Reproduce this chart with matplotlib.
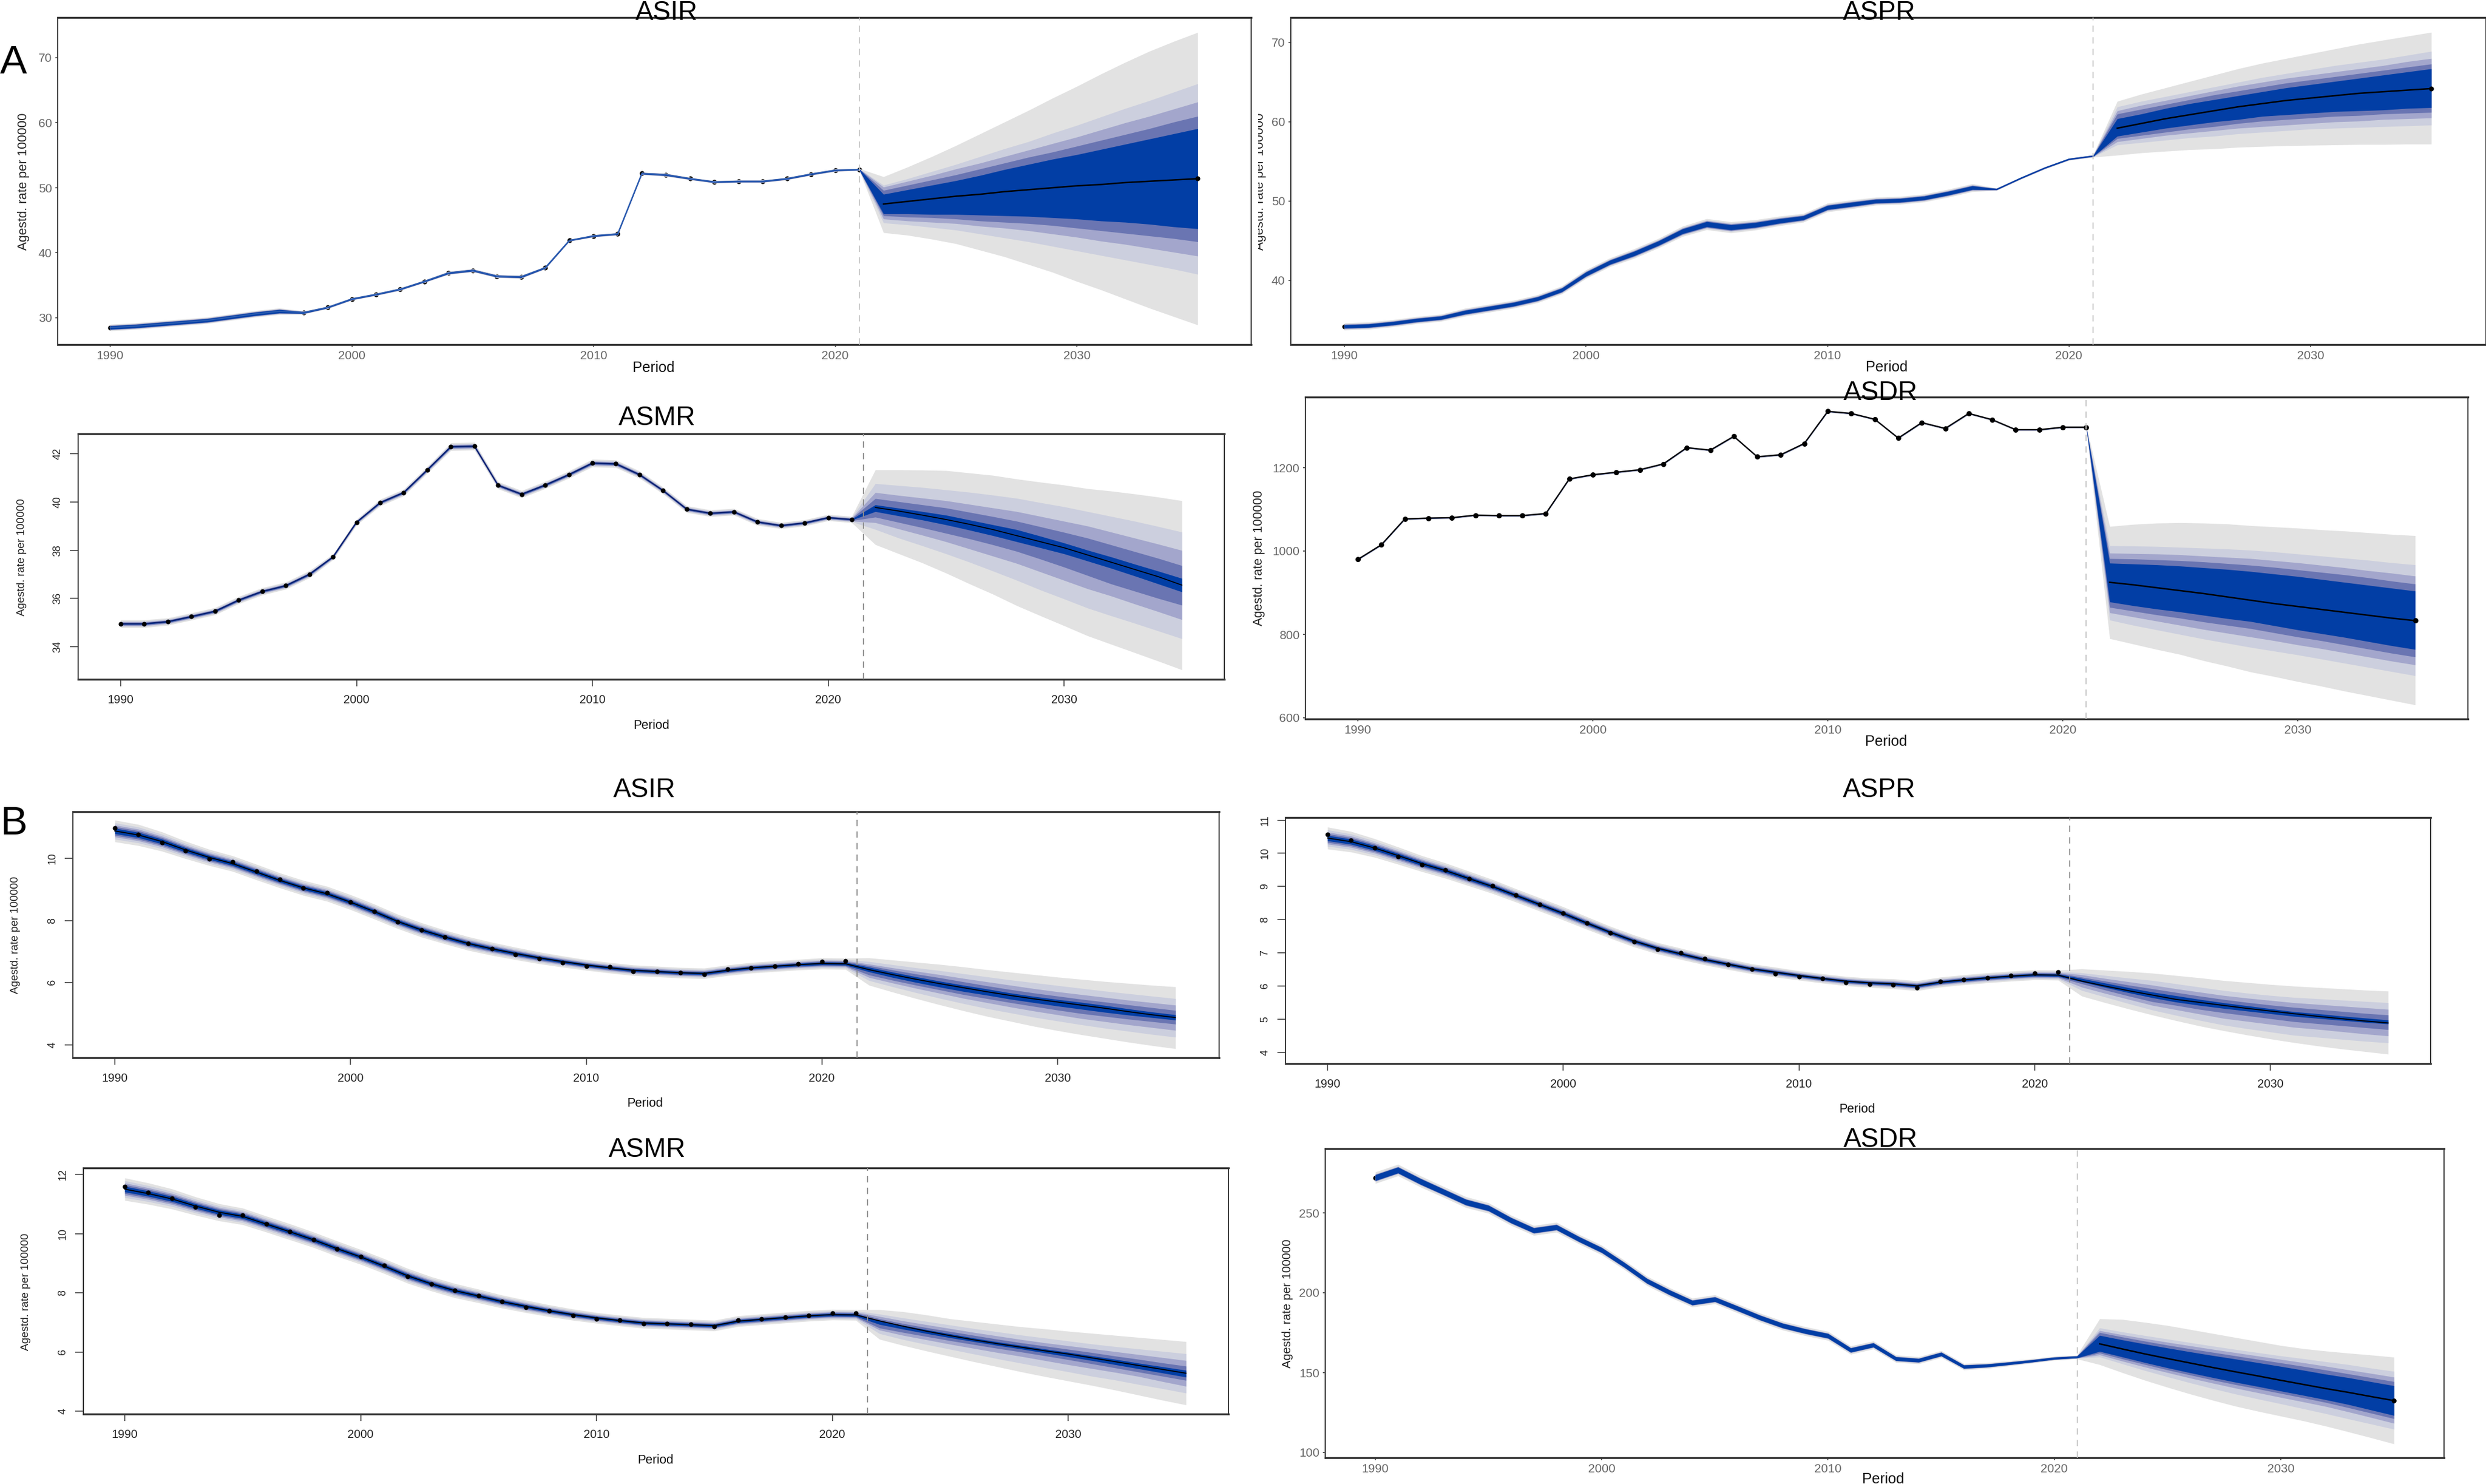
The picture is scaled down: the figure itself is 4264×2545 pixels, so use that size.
import matplotlib
matplotlib.use("Agg")
import matplotlib.pyplot as plt
from matplotlib.transforms import Bbox
import numpy as np

plt.rcParams['font.family'] = ['Liberation Sans', 'DejaVu Sans']

W, H = 4264, 2545
hist_years = list(range(1990, 2022))
fc_years = list(range(2022, 2036))
x_ticks = [1990, 2000, 2010, 2020, 2030]
band_colors = ['#E2E2E2', '#CCCFDE', '#A3A6CC', '#6A75B2', '#023EA5']

# ---------- Panel A ----------
a_asir_obs = [28.5, 28.7, 29.0, 29.3, 29.6, 30.1, 30.6, 31.0, 30.8, 31.6, 32.9, 33.6, 34.4, 35.6, 36.9, 37.3,
              36.4, 36.3, 37.7, 41.9, 42.6, 42.9, 52.2, 52.0, 51.4, 50.9, 51.0, 51.0, 51.4, 52.1, 52.7, 52.8]
a_asir_hw = [.5, .5, .5, .5, .5, .5, .5, .5, .25, .2, .2, .2, .2, .2, .25, .25,
             .25, .25, .2, .15, .2, .2, .2, .25, .2, .2, .2, .2, .2, .2, .2, .15]
a_asir_frac = [1, .8, .7, .6, .5]
a_asir_mean = [47.5, 47.9, 48.3, 48.7, 49.0, 49.4, 49.7, 50.0, 50.3, 50.5, 50.8, 51.0, 51.2, 51.4]
a_asir_up = [[51.7, 53.2, 54.8, 56.5, 58.3, 60.1, 61.9, 63.8, 65.6, 67.5, 69.3, 71.0, 72.5, 73.9],
             [50.4, 51.4, 52.5, 53.6, 54.8, 56.0, 57.1, 58.4, 59.6, 60.9, 62.2, 63.4, 64.7, 66.0],
             [50.1, 51.0, 51.9, 52.9, 53.8, 54.8, 55.8, 56.8, 57.8, 58.9, 60.0, 61.0, 62.1, 63.2],
             [49.6, 50.4, 51.2, 52.0, 52.9, 53.8, 54.7, 55.5, 56.4, 57.3, 58.2, 59.1, 60.1, 61.0],
             [49.0, 49.7, 50.4, 51.1, 51.9, 52.8, 53.6, 54.4, 55.1, 55.9, 56.7, 57.5, 58.3, 59.1]]
a_asir_lo = [[43.1, 42.7, 42.1, 41.4, 40.4, 39.4, 38.2, 37.0, 35.6, 34.3, 32.9, 31.5, 30.2, 28.9],
             [44.6, 44.3, 43.9, 43.5, 42.9, 42.3, 41.7, 41.0, 40.3, 39.6, 38.9, 38.2, 37.5, 36.7],
             [45.2, 44.9, 44.7, 44.5, 44.1, 43.8, 43.4, 42.9, 42.4, 41.8, 41.3, 40.7, 40.1, 39.5],
             [45.7, 45.5, 45.4, 45.2, 44.9, 44.7, 44.5, 44.2, 43.8, 43.4, 43.0, 42.6, 42.2, 41.7],
             [46.0, 46.0, 45.9, 45.9, 45.8, 45.7, 45.6, 45.4, 45.2, 44.9, 44.7, 44.4, 44.0, 43.7]]

a_aspr_obs = [34.2, 34.3, 34.6, 35.0, 35.3, 36.0, 36.5, 37.0, 37.7, 38.8, 40.8, 42.3, 43.4, 44.7, 46.2, 47.1,
              46.7, 47.0, 47.5, 47.9, 49.2, 49.6, 50.0, 50.1, 50.4, 51.0, 51.7, 51.5, 52.9, 54.2, 55.3, 55.7]
a_aspr_hw = [.45, .45, .45, .45, .45, .5, .5, .5, .5, .5, .55, .55, .6, .6, .65, .7,
             .7, .65, .6, .55, .55, .55, .5, .5, .5, .5, .5, .15, .15, .15, .15, .15]
a_aspr_frac = [1, .75, .65, .55, .45]
a_aspr_mean = [59.2, 59.8, 60.4, 60.9, 61.4, 61.9, 62.3, 62.7, 63.0, 63.3, 63.6, 63.8, 64.0, 64.2]
a_aspr_up = [[62.6, 63.5, 64.3, 65.1, 65.9, 66.7, 67.4, 68.0, 68.6, 69.2, 69.8, 70.3, 70.8, 71.3],
             [61.9, 62.6, 63.2, 63.8, 64.4, 65.0, 65.6, 66.1, 66.6, 67.1, 67.5, 67.9, 68.4, 68.9],
             [61.4, 62.1, 62.7, 63.3, 63.9, 64.5, 65.0, 65.5, 65.9, 66.3, 66.7, 67.1, 67.6, 68.0],
             [61.0, 61.6, 62.2, 62.8, 63.4, 63.9, 64.4, 64.9, 65.3, 65.7, 66.1, 66.5, 66.9, 67.3],
             [60.4, 61.0, 61.7, 62.3, 62.8, 63.3, 63.8, 64.3, 64.7, 65.1, 65.5, 65.9, 66.3, 66.7]]
a_aspr_lo = [[55.8, 56.1, 56.3, 56.5, 56.6, 56.8, 56.9, 57.0, 57.05, 57.1, 57.15, 57.15, 57.2, 57.2],
             [57.1, 57.4, 57.7, 58.0, 58.2, 58.5, 58.7, 58.9, 59.1, 59.2, 59.3, 59.4, 59.5, 59.6],
             [57.5, 57.9, 58.3, 58.6, 58.9, 59.2, 59.4, 59.6, 59.8, 60.0, 60.1, 60.3, 60.4, 60.5],
             [57.9, 58.3, 58.7, 59.1, 59.4, 59.8, 60.1, 60.3, 60.5, 60.7, 60.8, 61.0, 61.1, 61.2],
             [58.2, 58.7, 59.2, 59.6, 60.0, 60.3, 60.7, 60.9, 61.1, 61.3, 61.4, 61.5, 61.7, 61.8]]

a_asmr_obs = [34.95, 34.95, 35.04, 35.25, 35.47, 35.93, 36.29, 36.53, 37.0, 37.72, 39.16, 39.97, 40.39, 41.33, 42.29, 42.31,
              40.69, 40.32, 40.7, 41.13, 41.61, 41.58, 41.13, 40.47, 39.7, 39.53, 39.59, 39.17, 39.02, 39.13, 39.35, 39.27]
a_asmr_hw = [.16, .16, .15, .15, .15, .15, .15, .15, .15, .12, .12, .14, .14, .14, .16, .16,
             .15, .15, .15, .15, .16, .16, .15, .14, .14, .14, .14, .14, .13, .13, .13, .13]
a_asmr_frac = [1, .7, .5, .35, .15]
a_asmr_mean = [39.77, 39.62, 39.45, 39.27, 39.07, 38.85, 38.6, 38.35, 38.1, 37.8, 37.5, 37.2, 36.9, 36.55]
a_asmr_up = [[41.33, 41.33, 41.32, 41.3, 41.2, 41.1, 40.95, 40.82, 40.7, 40.55, 40.45, 40.33, 40.2, 40.05],
             [40.76, 40.68, 40.6, 40.5, 40.4, 40.28, 40.15, 39.97, 39.8, 39.6, 39.4, 39.2, 38.98, 38.75],
             [40.39, 40.27, 40.16, 40.05, 39.9, 39.75, 39.6, 39.4, 39.2, 39.0, 38.75, 38.5, 38.25, 37.99],
             [40.14, 40.01, 39.88, 39.75, 39.57, 39.39, 39.2, 38.97, 38.74, 38.5, 38.22, 37.94, 37.66, 37.36],
             [39.88, 39.74, 39.6, 39.45, 39.25, 39.05, 38.85, 38.58, 38.3, 38.0, 37.72, 37.42, 37.13, 36.83]]
a_asmr_lo = [[38.23, 37.85, 37.47, 37.05, 36.6, 36.17, 35.7, 35.28, 34.87, 34.45, 34.1, 33.75, 33.4, 33.04],
             [38.86, 38.5, 38.18, 37.85, 37.5, 37.13, 36.75, 36.35, 35.98, 35.6, 35.28, 34.97, 34.65, 34.33],
             [39.14, 38.88, 38.62, 38.35, 38.05, 37.75, 37.45, 37.1, 36.75, 36.4, 36.1, 35.77, 35.45, 35.12],
             [39.37, 39.15, 38.93, 38.7, 38.47, 38.22, 37.95, 37.63, 37.3, 36.95, 36.6, 36.3, 36.0, 35.72],
             [39.6, 39.42, 39.25, 39.05, 38.83, 38.6, 38.35, 38.1, 37.85, 37.55, 37.25, 36.93, 36.6, 36.27]]

a_asdr_obs = [980, 1015, 1077, 1079, 1080, 1086, 1085, 1085, 1090, 1173, 1183, 1189, 1195, 1209, 1248, 1242,
              1275, 1226, 1231, 1258, 1335, 1330, 1316, 1271, 1308, 1294, 1330, 1315, 1291, 1291, 1297, 1297]
a_asdr_hw = [3, 3, 3, 3, 3, 3, 3, 3, 3, 3, 3, 3, 3, 3, 3, 3,
             3, 3, 3, 3, 3, 3, 3, 3, 3, 3, 3, 3, 3, 3, 3, 3]
a_asdr_frac = [1, .7, .5, .35, .2]
a_asdr_mean = [925, 919, 912, 905, 898, 890, 882, 874, 867, 860, 853, 846, 839, 833]
a_asdr_up = [[1059, 1064, 1067, 1068, 1067, 1065, 1061, 1058, 1055, 1051, 1048, 1044, 1040, 1037],
             [1013, 1012, 1011, 1009, 1007, 1005, 1002, 998, 993, 988, 983, 978, 972, 967],
             [995, 994, 993, 991, 988, 985, 982, 977, 972, 966, 960, 953, 947, 940],
             [982, 981, 979, 977, 974, 970, 966, 961, 955, 949, 943, 936, 928, 921],
             [971, 969, 967, 964, 960, 956, 951, 945, 939, 932, 925, 918, 911, 904]]
a_asdr_lo = [[790, 777, 764, 752, 737, 724, 710, 699, 687, 676, 664, 653, 642, 631],
             [834.5, 822, 811, 800, 789, 779, 769, 760, 751, 741, 731, 721, 711, 701],
             [852, 842, 832, 822, 812, 803, 794, 785, 775, 766, 756, 746, 736, 727],
             [865, 856, 847, 839, 830, 822, 814, 804, 794, 785, 775, 765, 755, 746],
             [878, 869, 861, 854, 846, 838, 831, 821, 811, 802, 793, 783, 773, 764]]

# ---------- Panel B ----------
b_asir_obs = [10.97, 10.77, 10.5, 10.24, 9.99, 9.88, 9.58, 9.33, 9.05, 8.9, 8.6, 8.3, 7.95, 7.7, 7.47, 7.26,
              7.09, 6.91, 6.78, 6.65, 6.53, 6.51, 6.37, 6.36, 6.32, 6.26, 6.44, 6.48, 6.53, 6.6, 6.68, 6.7]
b_asir_fit = [10.88, 10.75, 10.54, 10.27, 10.03, 9.83, 9.56, 9.29, 9.05, 8.86, 8.59, 8.29, 7.97, 7.7, 7.47, 7.26,
              7.09, 6.94, 6.8, 6.68, 6.57, 6.48, 6.4, 6.36, 6.32, 6.3, 6.4, 6.48, 6.53, 6.58, 6.62, 6.61]
b_asir_hw = [.35, .34, .31, .28, .26, .25, .25, .24, .24, .24, .24, .24, .23, .23, .22, .22,
             .21, .2, .19, .18, .17, .17, .17, .17, .17, .17, .17, .17, .17, .17, .18, .18]
b_asir_frac = [1, .75, .55, .4, .25]
b_asir_mean = [6.42, 6.26, 6.11, 5.97, 5.84, 5.71, 5.59, 5.48, 5.38, 5.28, 5.18, 5.07, 4.97, 4.88]
b_asir_up = [[6.8, 6.73, 6.66, 6.59, 6.51, 6.42, 6.34, 6.26, 6.18, 6.11, 6.04, 5.98, 5.92, 5.87],
             [6.68, 6.58, 6.48, 6.39, 6.29, 6.19, 6.09, 6.0, 5.91, 5.82, 5.73, 5.65, 5.57, 5.49],
             [6.6, 6.48, 6.37, 6.26, 6.14, 6.03, 5.92, 5.81, 5.71, 5.62, 5.53, 5.44, 5.36, 5.28],
             [6.55, 6.41, 6.28, 6.16, 6.03, 5.9, 5.78, 5.67, 5.57, 5.47, 5.38, 5.29, 5.2, 5.11],
             [6.5, 6.34, 6.19, 6.05, 5.92, 5.8, 5.67, 5.56, 5.46, 5.37, 5.27, 5.16, 5.06, 4.97]]
b_asir_lo = [[5.92, 5.7, 5.49, 5.29, 5.1, 4.92, 4.76, 4.6, 4.46, 4.33, 4.21, 4.09, 3.98, 3.88],
             [6.07, 5.87, 5.68, 5.5, 5.33, 5.17, 5.03, 4.89, 4.77, 4.65, 4.54, 4.44, 4.34, 4.25],
             [6.17, 5.99, 5.82, 5.66, 5.5, 5.36, 5.22, 5.09, 4.97, 4.85, 4.75, 4.65, 4.56, 4.47],
             [6.25, 6.08, 5.92, 5.77, 5.62, 5.49, 5.36, 5.24, 5.12, 5.01, 4.92, 4.83, 4.75, 4.67],
             [6.35, 6.17, 6.01, 5.86, 5.72, 5.6, 5.47, 5.36, 5.25, 5.15, 5.05, 4.96, 4.88, 4.8]]

b_aspr_obs = [10.57, 10.39, 10.17, 9.91, 9.65, 9.49, 9.23, 9.03, 8.75, 8.47, 8.19, 7.9, 7.6, 7.33, 7.11, 7.0,
              6.82, 6.65, 6.51, 6.37, 6.28, 6.23, 6.11, 6.06, 6.04, 5.95, 6.14, 6.19, 6.24, 6.31, 6.39, 6.43]
b_aspr_fit = [10.46, 10.35, 10.16, 9.93, 9.69, 9.48, 9.24, 9.0, 8.73, 8.46, 8.19, 7.9, 7.62, 7.36, 7.14, 6.97,
              6.8, 6.66, 6.52, 6.42, 6.32, 6.23, 6.15, 6.1, 6.07, 6.01, 6.12, 6.19, 6.25, 6.3, 6.34, 6.33]
b_aspr_hw = [.33, .31, .28, .26, .24, .23, .22, .21, .2, .2, .2, .19, .18, .18, .17, .17,
             .16, .16, .15, .15, .14, .14, .14, .14, .15, .15, .15, .15, .15, .15, .15, .15]
b_aspr_frac = [1, .75, .55, .4, .25]
b_aspr_mean = [6.15, 6.0, 5.86, 5.73, 5.6, 5.51, 5.42, 5.33, 5.25, 5.17, 5.09, 5.02, 4.95, 4.89]
b_aspr_up = [[6.52, 6.48, 6.44, 6.39, 6.32, 6.25, 6.17, 6.11, 6.05, 6.0, 5.96, 5.92, 5.88, 5.85],
             [6.4, 6.32, 6.24, 6.17, 6.07, 5.97, 5.87, 5.79, 5.72, 5.66, 5.62, 5.58, 5.54, 5.5],
             [6.34, 6.23, 6.13, 6.03, 5.92, 5.82, 5.72, 5.64, 5.57, 5.5, 5.45, 5.4, 5.35, 5.3],
             [6.27, 6.15, 6.03, 5.92, 5.81, 5.7, 5.6, 5.51, 5.43, 5.36, 5.3, 5.24, 5.18, 5.13],
             [6.23, 6.09, 5.95, 5.82, 5.71, 5.6, 5.5, 5.41, 5.32, 5.23, 5.17, 5.1, 5.04, 4.98]]
b_aspr_lo = [[5.7, 5.5, 5.31, 5.13, 4.96, 4.8, 4.66, 4.53, 4.41, 4.3, 4.2, 4.11, 4.03, 3.95],
             [5.87, 5.67, 5.47, 5.28, 5.12, 4.97, 4.83, 4.72, 4.62, 4.52, 4.46, 4.4, 4.34, 4.29],
             [5.97, 5.78, 5.6, 5.42, 5.29, 5.16, 5.03, 4.94, 4.85, 4.76, 4.7, 4.63, 4.56, 4.5],
             [6.07, 5.88, 5.7, 5.53, 5.42, 5.3, 5.2, 5.11, 5.02, 4.93, 4.87, 4.81, 4.75, 4.69],
             [6.13, 5.96, 5.8, 5.65, 5.52, 5.42, 5.33, 5.25, 5.17, 5.09, 5.03, 4.97, 4.91, 4.86]]

b_asmr_obs = [11.58, 11.38, 11.19, 10.89, 10.62, 10.62, 10.32, 10.06, 9.8, 9.48, 9.23, 8.92, 8.55, 8.29, 8.07, 7.91,
              7.7, 7.51, 7.39, 7.23, 7.12, 7.07, 6.96, 6.95, 6.93, 6.86, 7.07, 7.11, 7.18, 7.23, 7.32, 7.32]
b_asmr_fit = [11.5, 11.35, 11.17, 10.93, 10.72, 10.58, 10.32, 10.06, 9.79, 9.49, 9.21, 8.9, 8.57, 8.3, 8.07, 7.89,
              7.7, 7.54, 7.39, 7.26, 7.15, 7.06, 6.98, 6.95, 6.92, 6.89, 7.04, 7.1, 7.16, 7.22, 7.26, 7.25]
b_asmr_hw = [.38, .36, .34, .31, .29, .28, .27, .27, .26, .26, .25, .25, .25, .24, .24, .23,
             .22, .21, .2, .19, .18, .18, .18, .18, .18, .18, .18, .18, .18, .18, .18, .18]
b_asmr_frac = [1, .75, .55, .4, .25]
b_asmr_mean = [7.05, 6.87, 6.7, 6.55, 6.41, 6.28, 6.16, 6.04, 5.93, 5.8, 5.67, 5.54, 5.41, 5.28]
b_asmr_up = [[7.43, 7.36, 7.25, 7.12, 7.03, 6.94, 6.85, 6.78, 6.7, 6.63, 6.56, 6.49, 6.42, 6.35],
             [7.28, 7.15, 7.03, 6.91, 6.79, 6.68, 6.57, 6.47, 6.37, 6.27, 6.18, 6.1, 6.02, 5.94],
             [7.2, 7.05, 6.92, 6.79, 6.66, 6.54, 6.42, 6.31, 6.21, 6.11, 6.01, 5.91, 5.81, 5.71],
             [7.12, 6.96, 6.82, 6.69, 6.56, 6.43, 6.31, 6.2, 6.09, 5.98, 5.86, 5.75, 5.63, 5.52],
             [7.05, 6.9, 6.75, 6.61, 6.47, 6.34, 6.22, 6.1, 5.99, 5.87, 5.75, 5.62, 5.5, 5.38]]
b_asmr_lo = [[6.43, 6.22, 6.03, 5.85, 5.67, 5.5, 5.33, 5.17, 5.02, 4.87, 4.71, 4.54, 4.37, 4.21],
             [6.62, 6.42, 6.25, 6.09, 5.93, 5.77, 5.62, 5.47, 5.33, 5.18, 5.05, 4.9, 4.76, 4.61],
             [6.74, 6.56, 6.41, 6.26, 6.12, 5.98, 5.85, 5.71, 5.57, 5.44, 5.31, 5.17, 5.0, 4.84],
             [6.81, 6.66, 6.52, 6.38, 6.25, 6.12, 6.0, 5.87, 5.74, 5.6, 5.46, 5.32, 5.18, 5.04],
             [6.93, 6.77, 6.62, 6.48, 6.35, 6.22, 6.1, 5.97, 5.84, 5.71, 5.57, 5.43, 5.29, 5.15]]

b_asdr_obs = [272, 276.8, 269.6, 263.2, 256.7, 253, 245.3, 239, 241, 233.5, 226.7, 217.4, 207.4, 200.2, 193.8, 195.9,
              190.2, 184.4, 179.4, 175.9, 173, 164.1, 167.3, 158.7, 157.7, 161.6, 153.7, 154.4, 155.8, 157.3, 159, 159.8]
b_asdr_hw = [3.6, 3.6, 3.5, 3.4, 3.4, 3.3, 3.2, 3.1, 3.1, 3.0, 3.0, 2.9, 2.9, 2.9, 2.8, 2.8,
             2.8, 2.8, 2.8, 2.8, 2.8, 2.6, 2.5, 2.3, 2.2, 2.2, 2.0, 1.8, 1.6, 1.4, 1.3, 1.2]
b_asdr_frac = [1, .7, .6, .55, .5]
b_asdr_mean = [168, 164.8, 161.7, 158.8, 156, 153.2, 150.5, 147.9, 145.2, 142.6, 140.0, 137.6, 135.0, 132.5]
b_asdr_up = [[183.7, 183.3, 181.5, 179.5, 177, 174.5, 172, 169.5, 167, 165, 163.5, 162.2, 161, 159.7],
             [178, 175.5, 173.2, 171, 168.8, 166.6, 164.5, 162.5, 160.5, 158.7, 156.8, 155, 152.8, 150.8],
             [176.3, 173.7, 171.3, 169, 166.8, 164.6, 162.5, 160.4, 158.3, 156.2, 154, 151.7, 149.5, 147.2],
             [175.1, 172.3, 169.7, 167.2, 164.9, 162.7, 160.5, 158.3, 156.1, 153.9, 151.6, 149.2, 146.8, 144.4],
             [173.3, 170.5, 167.9, 165.4, 163, 160.7, 158.5, 156.2, 153.9, 151.5, 149, 146.8, 144.3, 141.8]]
b_asdr_lo = [[155, 150, 145.2, 140.8, 136.6, 132.7, 129, 125.8, 122.8, 119.8, 116.5, 112.9, 109.2, 105.4],
             [159.8, 155.5, 151.3, 147.4, 143.6, 140, 136.6, 133.5, 130.5, 127.4, 124.3, 121, 117.8, 114.6],
             [161.1, 157.2, 153.5, 150, 146.6, 143.4, 140.3, 137.4, 134.5, 131.7, 128.8, 125.4, 121.9, 118.3],
             [162.3, 158.6, 155.1, 151.7, 148.5, 145.4, 142.5, 139.8, 137, 134.2, 131.3, 128, 124.6, 121.2],
             [163.3, 159.8, 156.3, 153, 149.9, 146.9, 144, 141.3, 138.5, 135.8, 133, 130, 126.6, 123.2]]

YL = "Agestd. rate per 100000"

# layout in pixels: axes box, pixel of 1990 and 2030, two y anchors
panels = [
 dict(name='ASIR', box=(99, 30, 2146, 591), xa=(189, 1847), ya=(30, 545, 70, 99), yt=[30, 40, 50, 60, 70], kind='gg',
      obs=a_asir_obs, fit=a_asir_obs, hw=a_asir_hw, frac=a_asir_frac, mean=a_asir_mean, up=a_asir_up, lo=a_asir_lo,
      vl=2021, line='#2A5BB0', lw=1.6, ms=6, order='blue', npts=32, fc_start=2022, tit=(1143, 34), per=(1121, 631), yl=(41, 311, 15.8)),
 dict(name='ASPR', box=(2214, 30, 4264, 591), xa=(2306, 3963), ya=(40, 481, 70, 73), yt=[40, 50, 60, 70], kind='gg',
      obs=a_aspr_obs, fit=a_aspr_obs, hw=a_aspr_hw, frac=a_aspr_frac, mean=a_aspr_mean, up=a_aspr_up, lo=a_aspr_lo,
      vl=2021, line='#023EA5', lw=1.2, ms=6, order='blue', npts=1, fc_start=2022, tit=(3223, 34), per=(3236, 630), clipyl=(2167, 311, 15.8, 2158)),
 dict(name='ASMR', box=(134, 744, 2100, 1165), xa=(207, 1825), ya=(34, 1109, 42, 778), yt=[34, 36, 38, 40, 42], kind='r',
      obs=a_asmr_obs, fit=a_asmr_obs, hw=a_asmr_hw, frac=a_asmr_frac, mean=a_asmr_mean, up=a_asmr_up, lo=a_asmr_lo,
      vl=2021.5, line='#0A1F6E', lw=1.5, ms=5.8, order='top', npts=32, fc_start=2022, tit=(1127, 729), per=(1117, 1244), yl=(38, 955, 13.5)),
 dict(name='ASDR', box=(2239, 681, 4233, 1233), xa=(2329, 3941), ya=(600, 1231, 1200, 802), yt=[600, 800, 1000, 1200], kind='gg',
      obs=a_asdr_obs, fit=a_asdr_obs, hw=a_asdr_hw, frac=a_asdr_frac, mean=a_asdr_mean, up=a_asdr_up, lo=a_asdr_lo,
      vl=2021, line='black', lw=1.6, ms=6.5, order='top', npts=32, fc_start=2022, tit=(3226, 686), per=(3235, 1272), yl=(2160, 957, 15.6)),
 dict(name='ASIR', box=(125, 1392, 2091, 1814), xa=(197, 1814), ya=(4, 1792, 10, 1472), yt=[4, 6, 8, 10], kind='r',
      obs=b_asir_obs, fit=b_asir_fit, hw=b_asir_hw, frac=b_asir_frac, mean=b_asir_mean, up=b_asir_up, lo=b_asir_lo,
      vl=2021.5, line='black', lw=1.3, ms=5.8, order='top', npts=32, fc_start=2021, tit=(1105, 1367), per=(1106, 1893), yl=(27, 1603, 13.5)),
 dict(name='ASPR', box=(2205, 1402, 4169, 1824), xa=(2277, 3894), ya=(4, 1805, 11, 1406.5), yt=[4, 5, 6, 7, 8, 9, 10, 11], kind='r',
      obs=b_aspr_obs, fit=b_aspr_fit, hw=b_aspr_hw, frac=b_aspr_frac, mean=b_aspr_mean, up=b_aspr_up, lo=b_aspr_lo,
      vl=2021.5, line='black', lw=1.3, ms=5.8, order='top', npts=32, fc_start=2021, tit=(3223, 1367), per=(3185, 1903)),
 dict(name='ASMR', box=(143, 2003, 2107, 2425), xa=(214, 1832), ya=(4, 2420, 12, 2014), yt=[4, 6, 8, 10, 12], kind='r',
      obs=b_asmr_obs, fit=b_asmr_fit, hw=b_asmr_hw, frac=b_asmr_frac, mean=b_asmr_mean, up=b_asmr_up, lo=b_asmr_lo,
      vl=2021.5, line='black', lw=1.3, ms=5.8, order='top', npts=32, fc_start=2021, tit=(1110, 1984), per=(1124, 2504), yl=(45, 2215, 13.5)),
 dict(name='ASDR', box=(2273, 1970, 4192, 2500), xa=(2359, 3912), ya=(100, 2491, 250, 2080), yt=[100, 150, 200, 250], kind='gg',
      obs=b_asdr_obs, fit=b_asdr_obs, hw=b_asdr_hw, frac=b_asdr_frac, mean=b_asdr_mean, up=b_asdr_up, lo=b_asdr_lo,
      vl=2021, line='#023EA5', lw=1.0, ms=6, order='blue', npts=1, fc_start=2022, tit=(3226, 1967), per=(3230, 2537), yl=(2209, 2235, 14.9)),
]

fig = plt.figure(figsize=(W / 100, H / 100), dpi=100, facecolor='white')


def fx(x):
    return x / W


def fy(y):
    return 1 - y / H


for p in panels:
    l, t, r, b = p['box']
    ax = fig.add_axes([fx(l), fy(b), fx(r) - fx(l), fy(t) - fy(b)])
    x0, x1 = p['xa']
    ppx = (x1 - x0) / 40
    ax.set_xlim(1990 + (l - x0) / ppx, 1990 + (r - x0) / ppx)
    v0, py0, v1, py1 = p['ya']
    ppy = (py0 - py1) / (v1 - v0)
    ax.set_ylim(v0 + (py0 - b) / ppy, v0 + (py0 - t) / ppy)

    top = p['order'] == 'blue'
    fit = np.array(p['fit'], float)
    hw = np.array(p['hw'], float)
    band_x = np.array(hist_years + fc_years, float)
    for i, col in enumerate(band_colors):
        upper = np.concatenate([fit + hw * p['frac'][i], p['up'][i]])
        lower = np.concatenate([fit - hw * p['frac'][i], p['lo'][i]])
        ax.fill_between(band_x, lower, upper, color=col, lw=0, zorder=3 + i * 0.1)

    # historic line and observations
    pt_z = 2 if top else 6
    n = p['npts']
    ax.plot(hist_years[:n], p['obs'][:n], ls='none', marker='o', ms=p['ms'], color='black', mew=0, zorder=pt_z)
    if p['fc_start'] == 2021:
        ax.plot(hist_years + fc_years, p['fit'] + p['mean'], color=p['line'], lw=p['lw'], zorder=5)
    else:
        ax.plot(hist_years, p['fit'], color=p['line'], lw=p['lw'], zorder=5)
        ax.plot(fc_years, p['mean'], color='black', lw=1.2 if p['kind'] == 'r' else 1.8, zorder=5)
    if p['kind'] == 'gg':
        ax.plot(fc_years[-1:], p['mean'][-1:], ls='none', marker='o', ms=p['ms'], color='black', mew=0, zorder=5)

    ax.axvline(p['vl'], color='#C4C4C4' if p['kind'] == 'gg' else '#8C8C8C', lw=1.3, ls=(0, (6, 5)), zorder=7)

    ax.set_xticks(x_ticks)
    ax.set_yticks(p['yt'])
    for s in ax.spines.values():
        s.set_color('#333333')
        s.set_linewidth(1.4)
    ax.spines['top'].set_linewidth(2.4)
    ax.spines['bottom'].set_linewidth(2.4)
    if p['kind'] == 'gg':
        ax.tick_params(axis='both', length=3, width=1.2, color='#444444', labelcolor='#666666', labelsize=15, pad=4)
    else:
        ax.tick_params(axis='x', length=8.5, width=1.1, color='#333333', labelcolor='#222222', labelsize=14.5, pad=10)
        ax.tick_params(axis='y', length=10, width=1.1, color='#333333', labelcolor='#222222', labelsize=13, pad=9)
        for lab in ax.get_yticklabels():
            lab.set_rotation(90)
            lab.set_va('center')

    fig.text(fx(p['tit'][0]), fy(p['tit'][1]), p['name'], ha='center', va='baseline', fontsize=33, color='black', zorder=10)
    per_size = 18 if p['kind'] == 'gg' else 15.5
    fig.text(fx(p['per'][0]), fy(p['per'][1]), 'Period', ha='center', va='center', fontsize=per_size, color='#111111')
    if 'yl' in p:
        fig.text(fx(p['yl'][0]), fy(p['yl'][1]), YL, rotation=90, ha='center', va='center',
                 fontsize=p['yl'][2], color='#222222')
    if 'clipyl' in p:
        xb, yc, fs, clip_x = p['clipyl']
        tx = fig.text(fx(xb), fy(yc), YL, rotation=90, ha='center', va='baseline', fontsize=fs,
                      rotation_mode='anchor', color='#222222')
        tx.set_clip_box(Bbox([[clip_x, 0], [2200, H]]))
        tx.set_clip_on(True)

fig.text(fx(0), fy(126), 'A', ha='left', va='baseline', fontsize=50, color='black')
fig.text(fx(0), fy(1431), 'B', ha='left', va='baseline', fontsize=50, color='black')

fig.savefig('out.png', dpi=100, facecolor='white')
